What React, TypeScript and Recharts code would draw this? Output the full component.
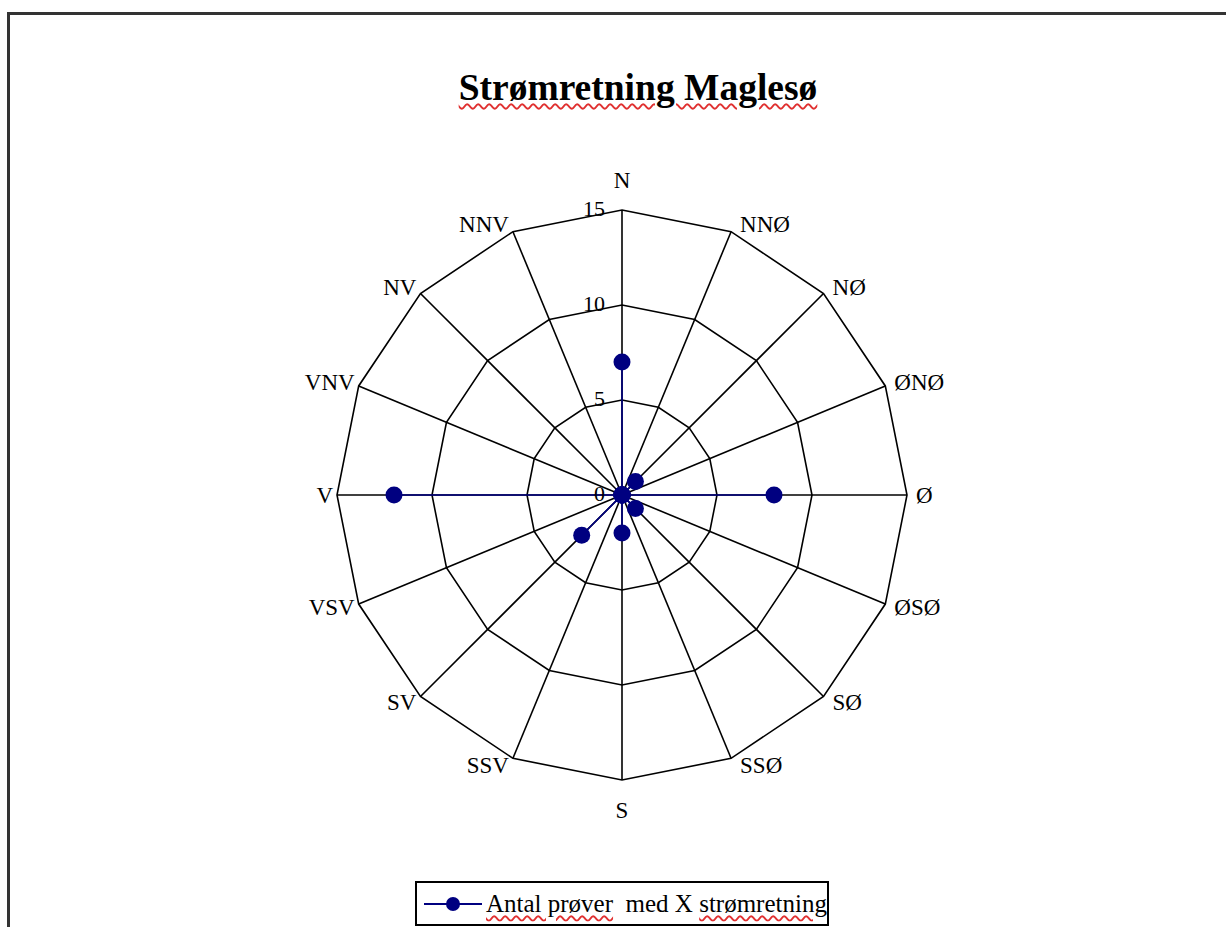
import { RadarChart, Radar, PolarGrid, PolarAngleAxis, PolarRadiusAxis, Legend } from 'recharts';

const directions = ['N', 'NNØ', 'NØ', 'ØNØ', 'Ø', 'ØSØ', 'SØ', 'SSØ', 'S', 'SSV', 'SV', 'VSV', 'V', 'VNV', 'NV', 'NNV'];
const counts = [7, 0, 1, 0, 8, 0, 1, 0, 2, 0, 3, 0, 12, 0, 0, 0];
const radiusTicks = [0, 5, 10, 15];

const CX = 622;
const CY = 495;
const OUTER = 285;
const SERIF = '"Liberation Serif", "Times New Roman", serif';
const NAVY = '#000080';

const squiggle = {
  textDecorationLine: 'underline',
  textDecorationStyle: 'wavy' as const,
  textDecorationColor: '#e03030',
  textDecorationThickness: '1.5px',
  textUnderlineOffset: '3px',
};

// labels sit right next to the polygon corner, like the Excel original
function AngleTick({ x, y, payload }: { x?: number; y?: number; payload?: { value: string } }) {
  const dx = (x ?? CX) - CX;
  const dy = (y ?? CY) - CY;
  const len = Math.sqrt(dx * dx + dy * dy) || 1;
  const ux = dx / len;
  const uy = dy / len;
  const vx = CX + ux * OUTER;
  const vy = CY + uy * OUTER;
  let anchor: 'start' | 'end' | 'middle' = 'middle';
  let tx = vx;
  let ty = vy + uy * 8;
  if (ux > 0.05) {
    anchor = 'start';
    tx = vx + 9;
  } else if (ux < -0.05) {
    anchor = 'end';
    tx = vx - 4;
  } else {
    ty = vy + uy * 30;
  }
  return (
    <text x={tx} y={ty} textAnchor={anchor} dominantBaseline="central" fontFamily={SERIF} fontSize={23} fill="#000">
      {payload?.value}
    </text>
  );
}

function RadiusTick({ x, y, payload }: { x?: number; y?: number; payload?: { value: number } }) {
  return (
    <text x={(x ?? 0) - 17} y={(y ?? 0) - 2} textAnchor="end" dominantBaseline="central" fontFamily={SERIF} fontSize={22} fill="#000">
      {payload?.value}
    </text>
  );
}

function Dot({ cx, cy }: { cx?: number; cy?: number }) {
  if (cx == null || cy == null) return null;
  return <circle cx={cx} cy={cy} r={8.5} fill={NAVY} stroke="none" />;
}

function LegendBox() {
  return (
    <div
      style={{
        boxSizing: 'border-box',
        width: 414,
        height: 45,
        border: '2px solid #000',
        background: '#fff',
        display: 'flex',
        alignItems: 'center',
        fontFamily: SERIF,
        fontSize: 25,
        whiteSpace: 'pre',
        overflow: 'hidden',
      }}
    >
      <svg width={62} height={20} style={{ flex: 'none', marginLeft: 5 }}>
        <line x1={2} y1={10} x2={60} y2={10} stroke={NAVY} strokeWidth={2} />
        <circle cx={31} cy={10} r={7} fill={NAVY} />
      </svg>
      <span style={{ marginLeft: 2 }}>
        <span style={squiggle}>Antal prøver</span>
        {'  med X '}
        <span style={squiggle}>strømretning</span>
      </span>
    </div>
  );
}

export default function App() {
  const data = directions.map((d, i) => ({ dir: d, value: counts[i] }));
  return (
    <div style={{ position: 'fixed', left: 0, top: 0, width: 1226, height: 927, overflow: 'hidden', background: '#fff' }}>
      <div
        style={{
          position: 'absolute',
          left: 7,
          top: 12,
          width: 1400,
          height: 1100,
          border: '3px solid #333',
        }}
      />
      <div
        style={{
          position: 'absolute',
          left: 0,
          top: 65,
          width: 1276,
          textAlign: 'center',
          fontFamily: SERIF,
          fontWeight: 'bold',
          fontSize: 37.5,
          lineHeight: '46px',
        }}
      >
        <span style={squiggle}>Strømretning Maglesø</span>
      </div>
      <div style={{ position: 'absolute', left: 0, top: 0 }}>
        <RadarChart width={1226} height={927} data={data} cx={CX} cy={CY} outerRadius={OUTER}>
          <PolarGrid gridType="polygon" stroke="#000" strokeWidth={1.6} />
          <PolarAngleAxis dataKey="dir" tick={<AngleTick />} tickLine={false} axisLine={false} />
          <PolarRadiusAxis
            angle={90}
            domain={[0, 15]}
            ticks={radiusTicks}
            tickCount={4}
            axisLine={false}
            tickLine={false}
            tick={<RadiusTick />}
          />
          <Radar
            name="Antal prøver  med X strømretning"
            dataKey="value"
            stroke={NAVY}
            strokeWidth={1.6}
            fill="none"
            fillOpacity={0}
            dot={<Dot />}
            isAnimationActive={false}
          />
          <Legend
            content={() => <LegendBox />}
            wrapperStyle={{ position: 'absolute', left: 415, top: 881, width: 414, height: 45, bottom: 'auto' }}
          />
        </RadarChart>
      </div>
    </div>
  );
}
